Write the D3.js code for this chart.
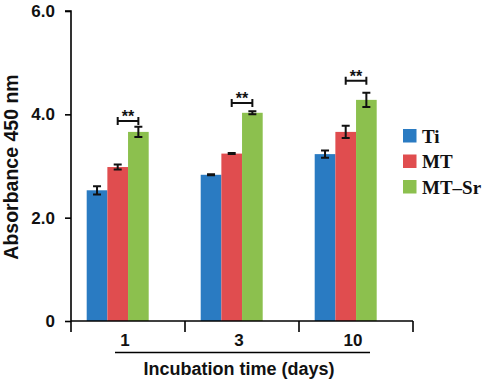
<!DOCTYPE html>
<html>
<head>
<meta charset="utf-8">
<script src="https://cdn.jsdelivr.net/npm/d3@7"></script>
<style>
  body { margin: 0; background: #fff; }
  svg text { font-family: "Liberation Sans", Arial, sans-serif; font-weight: bold; }
</style>
</head>
<body>
<div id="chart"></div>
<script>
// data
const days = ["1", "3", "10"];
const groups = ["Ti", "MT", "MT\u2013Sr"];
const tiValues = [2.53, 2.83, 3.23];
const mtValues = [2.98, 3.24, 3.66];
const mtsrValues = [3.66, 4.03, 4.28];
const tiErrors = [0.08, 0.01, 0.07];
const mtErrors = [0.05, 0.01, 0.12];
const mtsrErrors = [0.1, 0.03, 0.14];
const bracketLevels = [3.87, 4.22, 4.65];
const yTicks = [0, 2, 4, 6];
const colors = ["#2a7bc2", "#e04d4f", "#8cc04e"];

const width = 484, height = 382;
const x0 = 71, x1 = 413, yTop = 11, yBottom = 321;

const svg = d3.select("#chart").append("svg")
  .attr("width", width)
  .attr("height", height);

const xScale = d3.scaleBand()
  .domain(days)
  .range([x0, x1])
  .padding(0);

const barScale = d3.scaleBand()
  .domain(groups)
  .range([15.7, 15.7 + 62])
  .padding(0);

const yScale = d3.scaleLinear()
  .domain([0, 6])
  .range([yBottom, yTop]);

const seriesValues = [tiValues, mtValues, mtsrValues];
const seriesErrors = [tiErrors, mtErrors, mtsrErrors];

const rows = [];
days.forEach((d, i) => {
  groups.forEach((g, j) => {
    rows.push({day: d, group: g, idx: j, value: seriesValues[j][i], err: seriesErrors[j][i]});
  });
});

// bars
svg.append("g").selectAll("rect")
  .data(rows)
  .join("rect")
  .attr("x", d => xScale(d.day) + barScale(d.group))
  .attr("y", d => yScale(d.value))
  .attr("width", barScale.bandwidth())
  .attr("height", d => yScale(0) - yScale(d.value))
  .attr("fill", d => colors[d.idx]);

// error bars
const capHalf = 4;
const errG = svg.append("g")
  .attr("stroke", "#111")
  .attr("stroke-width", 2)
  .attr("fill", "none");
rows.forEach(d => {
  const cx = xScale(d.day) + barScale(d.group) + barScale.bandwidth() / 2;
  const yHi = yScale(d.value + d.err), yLo = yScale(d.value - d.err);
  errG.append("path")
    .attr("d", `M${cx},${yHi}V${yLo}M${cx - capHalf},${yHi}H${cx + capHalf}M${cx - capHalf},${yLo}H${cx + capHalf}`);
});

// significance brackets between MT and MT-Sr
days.forEach((d, i) => {
  const xa = xScale(d) + barScale(groups[1]) + barScale.bandwidth() / 2;
  const xb = xScale(d) + barScale(groups[2]) + barScale.bandwidth() / 2;
  const by = yScale(bracketLevels[i]);
  svg.append("path")
    .attr("d", `M${xa},${by - 4}V${by + 4}M${xa},${by}H${xb}M${xb},${by - 4}V${by + 4}`)
    .attr("stroke", "#111")
    .attr("stroke-width", 2)
    .attr("fill", "none");
  svg.append("text")
    .attr("x", (xa + xb) / 2)
    .attr("y", by + 1)
    .attr("text-anchor", "middle")
    .style("font-size", "16px")
    .attr("fill", "#111")
    .text("**");
});

// y axis
const yAxis = d3.axisLeft(yScale)
  .tickValues(yTicks)
  .tickSize(6)
  .tickPadding(10)
  .tickFormat(d => d === 0 ? "0" : d3.format(".1f")(d));

const yAxisG = svg.append("g")
  .attr("transform", `translate(${x0},0)`)
  .call(yAxis);
yAxisG.select(".domain").attr("d", `M-6,${yTop}H0V${yBottom}`).attr("stroke-width", 1.6);
yAxisG.selectAll(".tick line").attr("stroke-width", 1.6);
yAxisG.selectAll(".tick text")
  .style("font-size", "17px")
  .attr("fill", "#111");

// x axis: ticks at the category boundaries
svg.append("line")
  .attr("x1", x0).attr("x2", x1)
  .attr("y1", yBottom).attr("y2", yBottom)
  .attr("stroke", "#000").attr("stroke-width", 1.6);
const bounds = days.map(d => xScale(d)).concat([x1]);
svg.append("g").selectAll("line")
  .data(bounds)
  .join("line")
  .attr("x1", d => d).attr("x2", d => d)
  .attr("y1", yBottom).attr("y2", yBottom + 11)
  .attr("stroke", "#000").attr("stroke-width", 1.6);

svg.append("g").selectAll("text")
  .data(days)
  .join("text")
  .attr("x", d => xScale(d) + xScale.bandwidth() / 2 - 3)
  .attr("y", 346)
  .attr("text-anchor", "middle")
  .style("font-size", "17px")
  .attr("fill", "#111")
  .text(d => d);

// underline and axis title
svg.append("line")
  .attr("x1", 115).attr("x2", 370)
  .attr("y1", 352.5).attr("y2", 352.5)
  .attr("stroke", "#000").attr("stroke-width", 1.6);

svg.append("text")
  .attr("x", 239)
  .attr("y", 375)
  .attr("text-anchor", "middle")
  .style("font-size", "18px")
  .attr("fill", "#111")
  .text("Incubation time (days)");

svg.append("text")
  .attr("transform", "translate(18,167) rotate(-90)")
  .attr("text-anchor", "middle")
  .style("font-size", "19.5px")
  .attr("fill", "#111")
  .text("Absorbance 450 nm");

// legend
const legend = svg.append("g").attr("transform", "translate(403,129)");
groups.forEach((g, i) => {
  legend.append("rect")
    .attr("x", 0)
    .attr("y", i * 25.5)
    .attr("width", 13.5)
    .attr("height", 13.5)
    .attr("fill", colors[i]);
  legend.append("text")
    .attr("x", 19)
    .attr("y", i * 25.5 + 13.5)
    .style("font-family", "'Liberation Serif', 'Times New Roman', serif")
    .style("font-size", "19px")
    .attr("fill", "#111")
    .text(g);
});
</script>
</body>
</html>
